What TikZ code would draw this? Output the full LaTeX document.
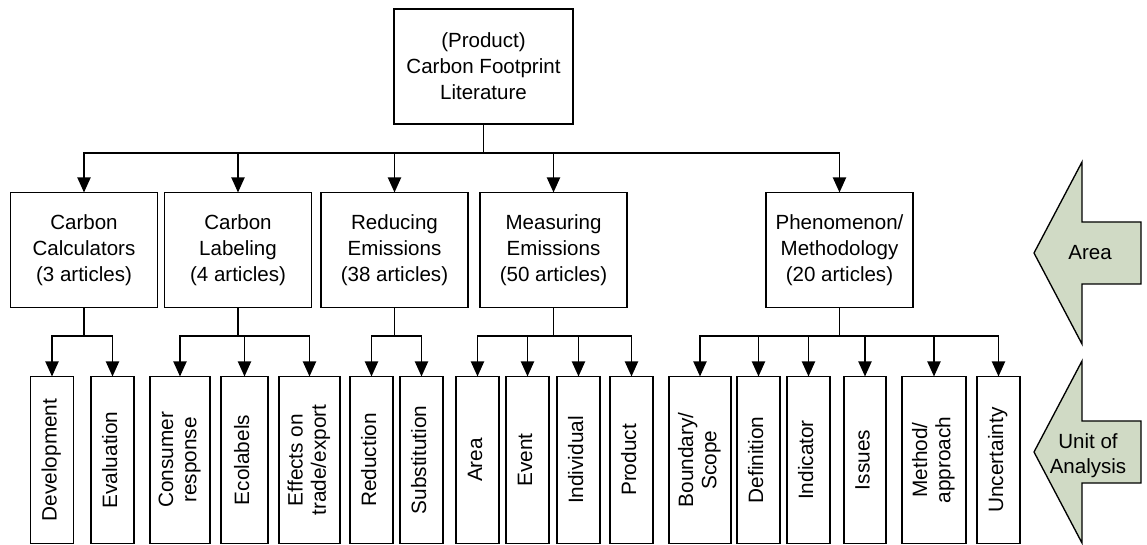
\documentclass[tikz,border=0pt]{standalone}
\usepackage{fontspec}
\setmainfont{Liberation Sans}
\usetikzlibrary{arrows.meta}
\definecolor{sage}{RGB}{208,218,197}
% vertical (bottom-to-top) text, one or more centred lines
\newcommand{\vtext}[1]{\rotatebox{90}{\begin{tabular}{@{}c@{}}#1\end{tabular}}}

\begin{document}
\begin{tikzpicture}[x=0.75pt,y=-0.75pt,
  box/.style={draw, line width=1.4pt, inner sep=0pt, outer sep=0pt, align=center,
    font=\fontsize{15.4}{19.5}\selectfont},
  areabox/.style={box, minimum width=147*0.75pt, minimum height=115*0.75pt},
  leafbox/.style={draw, line width=1.4pt, inner sep=0pt, outer sep=0pt,
    minimum height=167*0.75pt, font=\fontsize{15.6}{17.5}\selectfont},
  link/.style={line width=1.4pt},
  tolink/.style={line width=1.4pt, -{Triangle[width=9.75pt,length=11.25pt]}},
  bigarrow/.style={draw, line width=1pt, fill=sage, line join=miter},
  arrowtext/.style={align=center, font=\fontsize{15.4}{18.5}\selectfont}]

\useasboundingbox (0,0) rectangle (1147,545);

% bus levels
\coordinate (bus0) at (0,153);
\coordinate (bus1) at (0,336);

% root
\node[box, minimum width=179*0.75pt, minimum height=115*0.75pt] (root) at (483.5,66.5)
  {(Product)\\Carbon Footprint\\Literature};

% areas
\node[areabox] (calc)    at (84,250)    {Carbon\\Calculators\\(3 articles)};
\node[areabox] (label)   at (238,250)   {Carbon\\Labeling\\(4 articles)};
\node[areabox] (reduce)  at (394.5,250) {Reducing\\Emissions\\(38 articles)};
\node[areabox] (measure) at (553.5,250) {Measuring\\Emissions\\(50 articles)};
\node[areabox] (pheno)   at (839.5,250) {Phenomenon/\\Methodology\\(20 articles)};

% units of analysis
\node[leafbox, minimum width=43*0.75pt] (dev)   at (52,460)    {\vtext{Development}};
\node[leafbox, minimum width=43*0.75pt] (eva)   at (112.5,460) {\vtext{Evaluation}};
\node[leafbox, minimum width=60*0.75pt] (con)   at (180,460)   {\vtext{Consumer\\response}};
\node[leafbox, minimum width=47*0.75pt] (eco)   at (244.5,460) {\vtext{Ecolabels}};
\node[leafbox, minimum width=61*0.75pt] (eff)   at (309.5,460) {\vtext{Effects on\\trade/export}};
\node[leafbox, minimum width=43*0.75pt] (red)   at (371.5,460) {\vtext{Reduction}};
\node[leafbox, minimum width=43*0.75pt] (sub)   at (421.5,460) {\vtext{Substitution}};
\node[leafbox, minimum width=43*0.75pt] (are)   at (477.5,460) {\vtext{Area}};
\node[leafbox, minimum width=43*0.75pt] (eve)   at (527.5,460) {\vtext{Event}};
\node[leafbox, minimum width=43*0.75pt] (ind)   at (578.5,460) {\vtext{Individual}};
\node[leafbox, minimum width=43*0.75pt] (pro)   at (631.5,460) {\vtext{Product}};
\node[leafbox, minimum width=62*0.75pt] (bou)   at (700,460)   {\vtext{Boundary/\\Scope}};
\node[leafbox, minimum width=43*0.75pt] (def)   at (758.5,460) {\vtext{Definition}};
\node[leafbox, minimum width=43*0.75pt] (indic) at (808.5,460) {\vtext{Indicator}};
\node[leafbox, minimum width=42*0.75pt] (iss)   at (865,460)   {\vtext{Issues}};
\node[leafbox, minimum width=64*0.75pt] (met)   at (934,460)   {\vtext{Method/\\approach}};
\node[leafbox, minimum width=43*0.75pt] (unc)   at (998.5,460) {\vtext{Uncertainty}};

% root to areas
\draw[link] (root.south) -- (root.south |- bus0);
\foreach \n in {calc,label,reduce,measure,pheno}
  \draw[tolink] (root.south |- bus0) -| (\n.north);

% areas to units
\draw[link] (calc.south) -- (calc.south |- bus1);
\foreach \n in {dev,eva}
  \draw[tolink] (calc.south |- bus1) -| (\n.north);
\draw[link] (label.south) -- (label.south |- bus1);
\foreach \n in {con,eco,eff}
  \draw[tolink] (label.south |- bus1) -| (\n.north);
\draw[link] (reduce.south) -- (reduce.south |- bus1);
\foreach \n in {red,sub}
  \draw[tolink] (reduce.south |- bus1) -| (\n.north);
\draw[link] (measure.south) -- (measure.south |- bus1);
\foreach \n in {are,eve,ind,pro}
  \draw[tolink] (measure.south |- bus1) -| (\n.north);
\draw[link] (pheno.south) -- (pheno.south |- bus1);
\foreach \n in {bou,def,indic,iss,met,unc}
  \draw[tolink] (pheno.south |- bus1) -| (\n.north);

% level markers
\draw[bigarrow] (1034,253) -- (1082,162) -- (1082,222) -- (1141,222)
  -- (1141,284) -- (1082,284) -- (1082,344) -- cycle;
\node[arrowtext] (arealbl) at (1090,253) {Area};

\draw[bigarrow] (1034,452) -- (1082,361) -- (1082,421) -- (1141,421)
  -- (1141,483) -- (1082,483) -- (1082,543) -- cycle;
\node[arrowtext] (unitlbl) at (1088,456) {Unit of\\Analysis};

\end{tikzpicture}
\end{document}
